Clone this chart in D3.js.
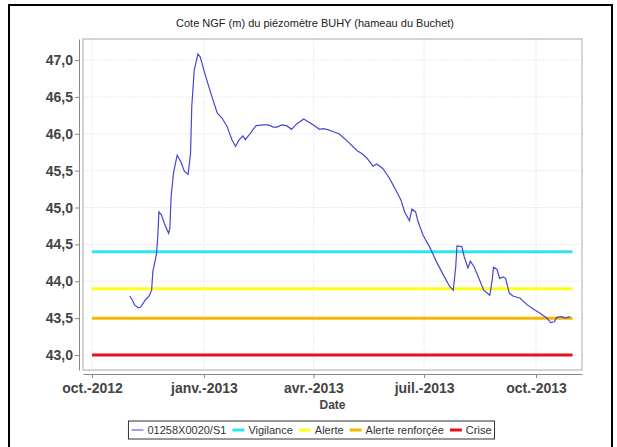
<!DOCTYPE html>
<html>
<head>
<meta charset="utf-8">
<script src="https://cdn.jsdelivr.net/npm/d3@7"></script>
<style>
  body { margin: 0; background: #fff; }
  svg { font-family: "Liberation Sans", Arial, sans-serif; }
</style>
</head>
<body>
<svg width="617" height="447"></svg>
<script>
// données
let dates = [
  "2012-11-01","2012-11-03","2012-11-05","2012-11-08","2012-11-10","2012-11-14","2012-11-17","2012-11-19",
  "2012-11-20","2012-11-23","2012-11-24","2012-11-25","2012-11-27","2012-11-30","2012-12-03","2012-12-04",
  "2012-12-05","2012-12-07","2012-12-10","2012-12-13","2012-12-16","2012-12-19","2012-12-21","2012-12-22",
  "2012-12-24","2012-12-27","2012-12-29","2013-01-01","2013-01-05","2013-01-09","2013-01-12","2013-01-16",
  "2013-01-20","2013-01-24","2013-01-27","2013-01-30","2013-02-02","2013-02-04","2013-02-07","2013-02-10",
  "2013-02-13","2013-02-19","2013-02-23","2013-02-27","2013-03-02","2013-03-06","2013-03-10","2013-03-14",
  "2013-03-18","2013-03-24","2013-03-28","2013-04-01","2013-04-06","2013-04-09","2013-04-12","2013-04-17",
  "2013-04-22","2013-04-27","2013-05-02","2013-05-07","2013-05-11","2013-05-15","2013-05-20","2013-05-23",
  "2013-05-28","2013-06-02","2013-06-07","2013-06-12","2013-06-15","2013-06-19","2013-06-21","2013-06-24",
  "2013-06-26","2013-06-30","2013-07-06","2013-07-11","2013-07-17","2013-07-22","2013-07-25","2013-07-27",
  "2013-07-28","2013-08-01","2013-08-03","2013-08-06","2013-08-08","2013-08-11","2013-08-15","2013-08-19",
  "2013-08-24","2013-08-26","2013-08-27","2013-08-30","2013-09-01","2013-09-04","2013-09-06","2013-09-09",
  "2013-09-12","2013-09-18","2013-09-23","2013-09-29","2013-10-04","2013-10-10","2013-10-13","2013-10-16",
  "2013-10-18","2013-10-22","2013-10-25","2013-10-29"
];
let cotes = [
  43.80,43.75,43.68,43.64,43.65,43.75,43.80,43.88,
  44.13,44.37,44.59,44.94,44.90,44.76,44.65,44.72,
  45.15,45.47,45.71,45.62,45.49,45.45,45.74,46.37,
  46.86,47.08,47.04,46.86,46.64,46.43,46.28,46.21,
  46.10,45.92,45.83,45.92,45.97,45.92,45.98,46.05,
  46.11,46.12,46.12,46.09,46.09,46.12,46.11,46.06,
  46.13,46.20,46.16,46.12,46.06,46.07,46.06,46.03,
  46.00,45.93,45.85,45.77,45.73,45.67,45.56,45.59,
  45.53,45.41,45.26,45.10,44.94,44.82,44.98,44.94,
  44.81,44.63,44.45,44.27,44.08,43.93,43.88,44.20,
  44.48,44.47,44.33,44.18,44.27,44.20,44.04,43.88,
  43.81,44.02,44.19,44.16,44.04,44.06,44.04,43.84,
  43.80,43.77,43.69,43.62,43.57,43.50,43.44,43.45,
  43.51,43.52,43.50,43.52
];

// seuils
let seuilsNoms = ["Vigilance", "Alerte", "Alerte renforçée", "Crise"];
let seuilsValeurs = [44.4, 43.9, 43.5, 43.0];
let seuilsCouleurs = ["#2ee6f2", "#ffff1a", "#f5b800", "#e8101a"];
let seuilsPeriode = ["2012-10-01", "2013-10-31"];

let serieNom = "01258X0020/S1";
let serieCouleur = "#4646d2";

let yTicks = [43.0, 43.5, 44.0, 44.5, 45.0, 45.5, 46.0, 46.5, 47.0];
let xTicks = ["2012-10-01", "2013-01-01", "2013-04-01", "2013-07-01", "2013-10-01"];
let xTickLabels = ["oct.-2012", "janv.-2013", "avr.-2013", "juil.-2013", "oct.-2013"];

let parse = d3.timeParse("%Y-%m-%d");

let svg = d3.select("svg");

// cadre noir
svg.append("rect")
    .attr("x", 9).attr("y", 5)
    .attr("width", 603).attr("height", 470)
    .attr("fill", "none")
    .attr("stroke", "#000")
    .attr("stroke-width", 2);

// titre
svg.append("text")
    .attr("x", 315).attr("y", 27)
    .attr("text-anchor", "middle")
    .attr("font-size", 11)
    .attr("fill", "#222")
    .text("Cote NGF (m) du piézomètre BUHY (hameau du Buchet)");

let plot = { left: 83, right: 582, top: 39, bottom: 370 };

let x = d3.scaleTime()
    .domain([new Date(2012, 8, 23, 14), new Date(2013, 10, 7, 19)])
    .range([plot.left, plot.right]);

let y = d3.scaleLinear()
    .domain([42.797, 47.285])
    .range([plot.bottom, plot.top]);

// grille
svg.append("g")
    .selectAll("line")
    .data(yTicks)
    .join("line")
    .attr("x1", plot.left).attr("x2", plot.right)
    .attr("y1", d => y(d)).attr("y2", d => y(d))
    .attr("stroke", "#ebebeb")
    .attr("stroke-dasharray", "2,1");

svg.append("g")
    .selectAll("line")
    .data(xTicks)
    .join("line")
    .attr("x1", d => x(parse(d))).attr("x2", d => x(parse(d)))
    .attr("y1", plot.top).attr("y2", plot.bottom)
    .attr("stroke", "#ebebeb")
    .attr("stroke-dasharray", "2,1");

// contour de la zone de tracé
svg.append("rect")
    .attr("x", plot.left).attr("y", plot.top)
    .attr("width", plot.right - plot.left)
    .attr("height", plot.bottom - plot.top)
    .attr("fill", "none")
    .attr("stroke", "#aaa");

// seuils
svg.append("g")
    .selectAll("line")
    .data(seuilsValeurs)
    .join("line")
    .attr("x1", x(parse(seuilsPeriode[0])))
    .attr("x2", x(parse(seuilsPeriode[1])))
    .attr("y1", d => y(d)).attr("y2", d => y(d))
    .attr("stroke", (d, i) => seuilsCouleurs[i])
    .attr("stroke-width", 3);

// courbe du piézomètre
let points = dates.map((d, i) => ({ date: parse(d), v: cotes[i] }));
svg.append("path")
    .datum(points)
    .attr("fill", "none")
    .attr("stroke", serieCouleur)
    .attr("stroke-width", 1.2)
    .attr("d", d3.line().x(d => x(d.date)).y(d => y(d.v)));

// axes
let axeY = svg.append("g")
    .attr("transform", `translate(${plot.left - 4},0)`)
    .call(d3.axisLeft(y)
        .tickValues(yTicks)
        .tickFormat(d => d3.format(".1f")(d).replace(".", ","))
        .tickSize(4)
        .tickSizeOuter(0)
        .tickPadding(2));

let axeX = svg.append("g")
    .attr("transform", `translate(0,${plot.bottom + 4})`)
    .call(d3.axisBottom(x)
        .tickValues(xTicks.map(parse))
        .tickFormat((d, i) => xTickLabels[i])
        .tickSize(4)
        .tickSizeOuter(0)
        .tickPadding(5));

[axeY, axeX].forEach(a => {
    a.select(".domain").attr("stroke", "#888");
    a.selectAll(".tick line").attr("stroke", "#888");
    a.selectAll(".tick text")
        .attr("font-family", "Liberation Sans, Arial, sans-serif")
        .attr("font-size", 14)
        .attr("font-weight", "bold")
        .attr("fill", "#444");
});

svg.append("text")
    .attr("x", (plot.left + plot.right) / 2).attr("y", 409)
    .attr("text-anchor", "middle")
    .attr("font-size", 12)
    .attr("font-weight", "bold")
    .attr("fill", "#444")
    .text("Date");

// légende
let legendeNoms = [serieNom].concat(seuilsNoms);
let legendeCouleurs = [serieCouleur].concat(seuilsCouleurs);
let legendeEpaisseurs = [1, 3, 3, 3, 3];

let legende = svg.append("g");
let cx = 0;
legendeNoms.forEach((nom, i) => {
    let item = legende.append("g").attr("transform", `translate(${cx},0)`);
    item.append("line")
        .attr("x1", 0).attr("x2", 12)
        .attr("y1", 0).attr("y2", 0)
        .attr("stroke", legendeCouleurs[i])
        .attr("stroke-width", legendeEpaisseurs[i]);
    let t = item.append("text")
        .attr("x", 16).attr("y", 4)
        .attr("font-size", 11)
        .attr("fill", "#333")
        .text(nom);
    cx += 16 + t.node().getComputedTextLength() + 6;
});
let largeur = cx;
let lx = 311.5 - largeur / 2;
legende.attr("transform", `translate(${lx + 3},430)`);
svg.append("rect")
    .attr("x", lx).attr("y", 421)
    .attr("width", largeur).attr("height", 18)
    .attr("fill", "none")
    .attr("stroke", "#333");
</script>
</body>
</html>
